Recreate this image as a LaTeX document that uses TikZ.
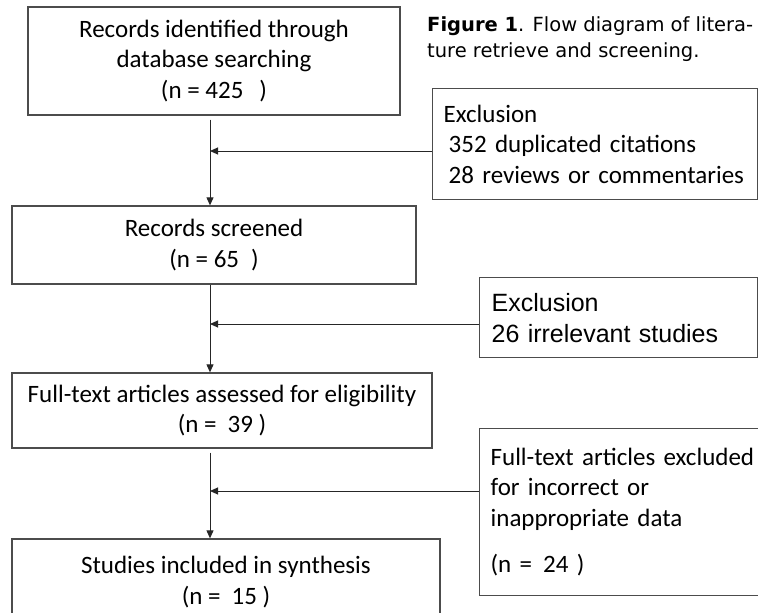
\documentclass[tikz,border=0pt]{standalone}
\usepackage{fontspec}
\setmainfont{Carlito}
\newfontfamily\arialfont{Liberation Sans}
\newfontfamily\capfont{DejaVu Sans}
\usetikzlibrary{arrows.meta}

\tikzset{
  flowbox/.style={draw=black!70, line width=1.3pt, align=center, inner sep=0pt,
    font=\fontsize{25}{30.5}\selectfont},
  exbox/.style={flowbox, align=left, anchor=north west, inner xsep=11pt},
  arr/.style={-{Triangle[length=8pt,width=7pt]}, line width=1pt, draw=black!85},
}

\begin{document}
\begin{tikzpicture}[x=1pt,y=-1pt]
            \useasboundingbox (0,0) rectangle (758,613);
            \clip (0,0) rectangle (758,613);
            \node[flowbox, minimum width=372pt, minimum height=108pt] (ident) at (214,61)
                {Records identified through\\database searching\\(n = 425\hspace{16pt})};
            \node[flowbox, minimum width=404pt, minimum height=78pt] (screened) at (214,245)
                {Records screened\\(n = 65\hspace{12pt})};
            \node[flowbox, minimum width=420pt, minimum height=75pt] (fulltext) at (222,410.5)
                {Full-text articles assessed for eligibility\\(n =\hspace{11pt}39 )};
            \node[flowbox, minimum width=428pt, minimum height=86pt] (included) at (226,582)
                {Studies included in synthesis\\(n =\hspace{11pt}15 )};
            \node[exbox, text width=303pt, minimum height=111pt] (excl1) at (432,88)
                {Exclusion\\\hspace{5pt}352 duplicated citations\\\hspace{5pt}28 reviews or commentaries};
            \node[exbox, text width=254pt, minimum height=80pt, inner xsep=12pt,
                font=\arialfont\fontsize{25}{31}\selectfont] (excl2) at (479,277)
                {Exclusion\\26 irrelevant studies};
            \node[exbox, text width=310pt, minimum height=167pt] (excl3) at (479,428)
                {Full-text articles excluded\\for incorrect or\\inappropriate data\\[16pt](n =\hspace{11pt}24 )};
            \node[anchor=north west, inner sep=0pt, align=left,
                font=\capfont\fontsize{19.5}{26}\selectfont] (caption) at (427,16)
                {\textbf{Figure 1}. Flow diagram of litera-\\ture retrieve and screening.};
            \coordinate (j1) at (210,151);
            \coordinate (j2) at (210,324);
            \coordinate (j3) at (210,491);
            \draw[arr, shorten <=4pt] (ident.south -| j1) -- (screened.north -| j1);
            \draw[arr] (screened.south -| j2) -- (fulltext.north -| j2);
            \draw[arr, shorten <=4pt] (fulltext.south -| j3) -- (included.north -| j3);
            \draw[arr] (j1 -| excl1.west) -- (j1);
            \draw[arr] (j2 -| excl2.west) -- (j2);
            \draw[arr] (j3 -| excl3.west) -- (j3);
        \end{tikzpicture}
\end{document}
